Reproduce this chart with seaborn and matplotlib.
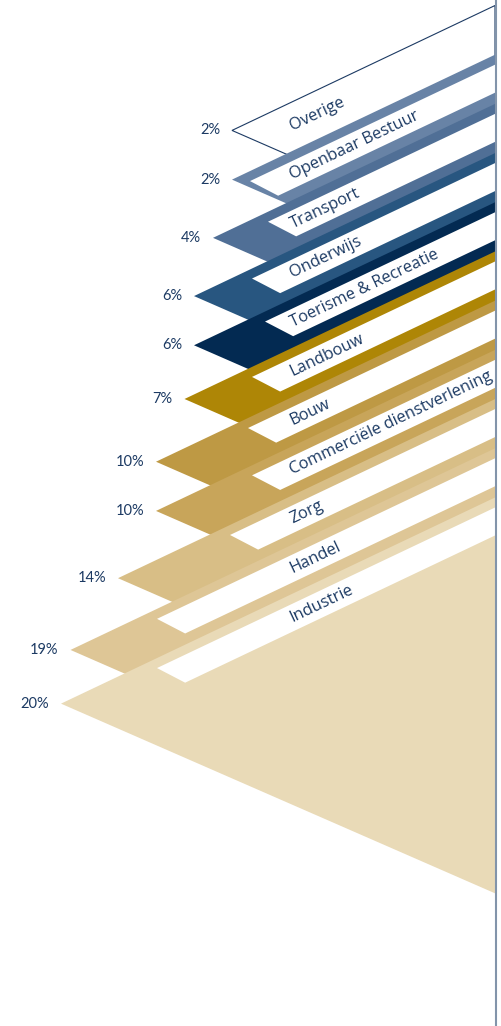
import numpy as np
import matplotlib.pyplot as plt
import seaborn as sns

# sectors from top to bottom, share of jobs in %
sectors = ['Overige', 'Openbaar Bestuur', 'Transport', 'Onderwijs',
           'Toerisme & Recreatie', 'Landbouw', 'Bouw',
           'Commerciële dienstverlening', 'Zorg', 'Handel', 'Industrie']
shares = [2, 2, 4, 6, 6, 7, 10, 10, 14, 19, 20]
pct_labels = [f'{v}%' for v in shares]
colors = ['#ffffff', '#6883a6', '#506f96', '#285680', '#032a52', '#ae8606',
          '#be9944', '#c8a55a', '#d8be86', '#dec696', '#e9dab7']

# layout (pixels)
R = 495            # right edge where the chevrons end
su, sl, ss = 0.475, 0.437, 0.52   # slopes: upper arm, lower arm, strip end
row0, row_step = 5.5, 49.2        # top of each band at the right edge
depth0, depth_per_pct = 244, 9.5  # how far a tip reaches left
strip_off, strip_h = 10, 28
strip_start = [None, 250, 268, 252, 265, 252, 248, 252, 230, 157, 157]
label_x = 291
navy = '#1c3a63'

sns.set_theme(style='white')
plt.rcParams['font.family'] = ['Open Sans', 'DejaVu Sans']

fig = plt.figure(figsize=(5.01, 10.26), dpi=100)
ax = fig.add_axes([0, 0, 1, 1])
ax.set_xlim(0, 501)
ax.set_ylim(1026, 0)
ax.axis('off')

angle = np.degrees(np.arctan(su))
tips = []
for i, (name, v, c) in enumerate(zip(sectors, shares, colors)):
    d = depth0 + depth_per_pct * v
    tx = R - d
    ty = row0 + row_step * i + su * d
    tips.append((tx, ty))
    xs = [tx, R, R]
    ys = [ty, ty - su * d, ty + sl * d]
    if i == 0:
        ax.fill(xs, ys, facecolor='white', edgecolor=navy, lw=0.8, zorder=1)
    else:
        ax.fill(xs, ys, color=c, lw=0, zorder=1 + i)

def upper(i, x):
    tx, ty = tips[i]
    return ty - su * (x - tx)

# white label strips
for i in range(1, len(sectors)):
    ls = strip_start[i]
    top_l = upper(i, ls) + strip_off
    top_r = upper(i, R) + strip_off
    dx = strip_h / (ss + su)
    xs = [ls, R, R, ls + dx]
    ys = [top_l, top_r, top_r + strip_h, top_l + ss * dx]
    ax.fill(xs, ys, color='white', lw=0, zorder=20)

# sector names and percentages
for i, name in enumerate(sectors):
    yc = upper(i, label_x) + strip_off + strip_h / 2
    ax.text(label_x, yc, name, rotation=angle, rotation_mode='anchor',
            ha='left', va='center', fontsize=11.8, color=navy, zorder=30)
    tx, ty = tips[i]
    ax.text(tx - 12, ty, pct_labels[i], ha='right', va='center',
            fontsize=10.5, color=navy, family=['Lato', 'DejaVu Sans'], zorder=30)

ax.axvline(496, color='#8294aa', lw=1.5, zorder=40)

fig.savefig('out.png', dpi=100)
